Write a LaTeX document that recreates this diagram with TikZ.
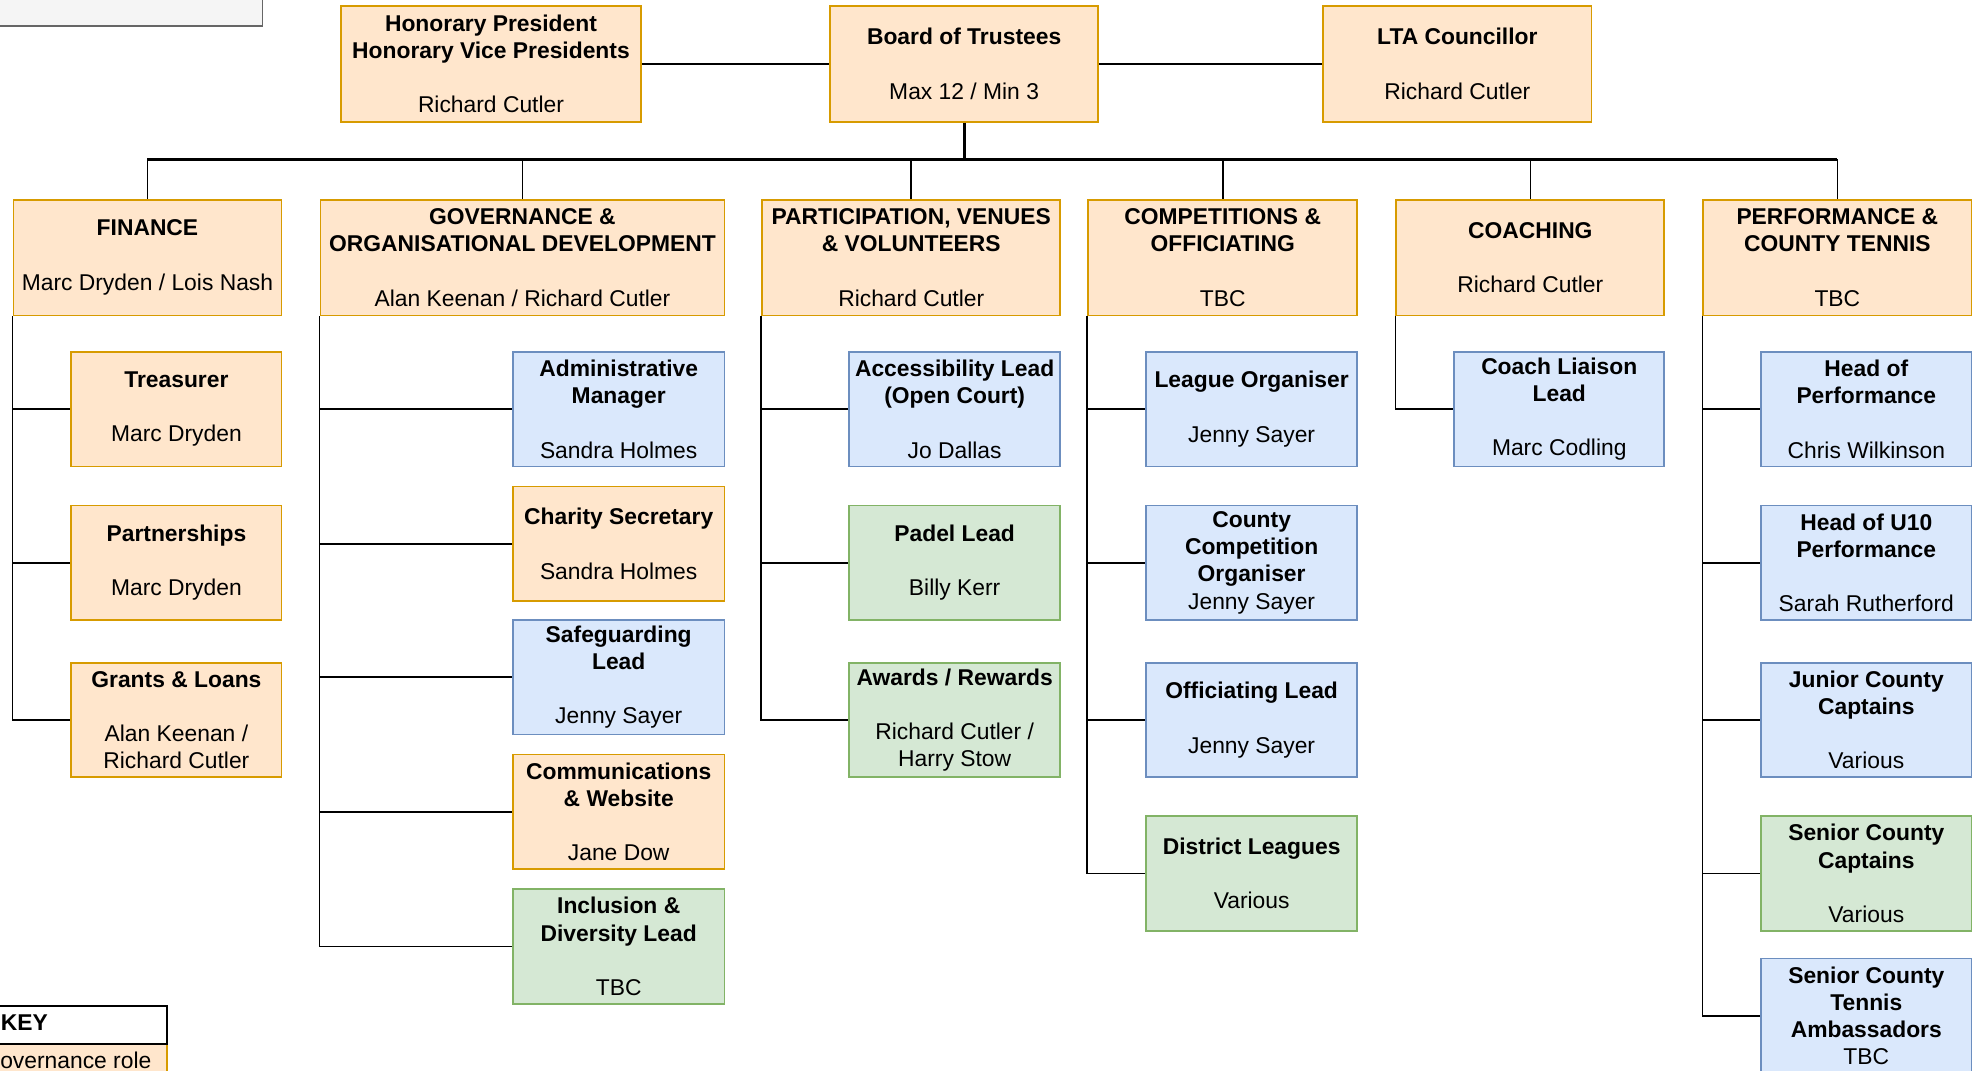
\documentclass[tikz,border=0pt]{standalone}
\usepackage{fontspec}
\setmainfont{Liberation Sans}
\definecolor{orF}{HTML}{FFE6CC}\definecolor{orD}{HTML}{D79B00}
\definecolor{blF}{HTML}{DAE8FC}\definecolor{blD}{HTML}{6C8EBF}
\definecolor{grF}{HTML}{D5E8D4}\definecolor{grD}{HTML}{82B366}
\definecolor{gyF}{HTML}{F5F5F5}\definecolor{gyD}{HTML}{666666}
\tikzset{
  box/.style={draw, line width=1.4pt, anchor=north west, inner sep=0pt, align=center,
    font=\fontsize{18.15}{21.6}\selectfont, text=black},
  ob/.style={box, fill=orF, draw=orD},
  bb/.style={box, fill=blF, draw=blD},
  gb/.style={box, fill=grF, draw=grD},
  conn/.style={line width=1.3pt, black},
  busline/.style={line width=2.2pt, black},
  txt/.style={anchor=west, inner sep=0pt, font=\fontsize{18.15}{21.6}\selectfont}
}
\begin{document}
\begin{tikzpicture}[x=1pt,y=-1pt]
\useasboundingbox (0,0) rectangle (1568,851);
\clip (0,0) rectangle (1568,851);
% note box top-left
\node[box, fill=gyF, draw=gyD, minimum width=240pt, minimum height=40pt] (note) at (-32,-20) {};
% top row
\node[ob, minimum width=239pt, minimum height=92pt] (hon) at (270,4) {\textbf{Honorary President}\\\textbf{Honorary Vice Presidents}\\[21.6pt]Richard Cutler};
\node[ob, minimum width=213pt, minimum height=92pt] (board) at (659,4) {\textbf{Board of Trustees}\\[21.6pt]Max 12 / Min 3};
\node[ob, minimum width=213pt, minimum height=92pt] (lta) at (1051,4) {\textbf{LTA Councillor}\\[21.6pt]Richard Cutler};
% departments
\node[ob, minimum width=213pt, minimum height=92pt] (fin) at (10,158) {\textbf{FINANCE}\\[21.6pt]Marc Dryden / Lois Nash};
\node[ob, minimum width=321pt, minimum height=92pt] (gov) at (254,158) {\textbf{GOVERNANCE \&}\\\textbf{ORGANISATIONAL DEVELOPMENT}\\[21.6pt]Alan Keenan / Richard Cutler};
\node[ob, minimum width=237pt, minimum height=92pt] (part) at (605,158) {\textbf{PARTICIPATION, VENUES}\\\textbf{\& VOLUNTEERS}\\[21.6pt]Richard Cutler};
\node[ob, minimum width=214pt, minimum height=92pt] (comp) at (864,158) {\textbf{COMPETITIONS \&}\\\textbf{OFFICIATING}\\[21.6pt]TBC};
\node[ob, minimum width=213pt, minimum height=92pt] (coach) at (1109,158) {\textbf{COACHING}\\[21.6pt]Richard Cutler};
\node[ob, minimum width=213pt, minimum height=92pt] (perf) at (1353,158) {\textbf{PERFORMANCE \&}\\\textbf{COUNTY TENNIS}\\[21.6pt]TBC};
% finance children
\node[ob, minimum width=167pt, minimum height=91pt] (treas) at (56,279) {\textbf{Treasurer}\\[21.6pt]Marc Dryden};
\node[ob, minimum width=167pt, minimum height=91pt] (partn) at (56,401) {\textbf{Partnerships}\\[21.6pt]Marc Dryden};
\node[ob, minimum width=167pt, minimum height=91pt] (grants) at (56,526) {\textbf{Grants \& Loans}\\[21.6pt]Alan Keenan /\\Richard Cutler};
% governance children
\node[bb, minimum width=168pt, minimum height=91pt] (admin) at (407,279) {\textbf{Administrative}\\\textbf{Manager}\\[21.6pt]Sandra Holmes};
\node[ob, minimum width=168pt, minimum height=91pt] (charity) at (407,386) {\textbf{Charity Secretary}\\[21.6pt]Sandra Holmes};
\node[bb, minimum width=168pt, minimum height=91pt] (safe) at (407,492) {\textbf{Safeguarding}\\\textbf{Lead}\\[21.6pt]Jenny Sayer};
\node[ob, minimum width=168pt, minimum height=91pt] (comms) at (407,599) {\textbf{Communications}\\\textbf{\& Website}\\[21.6pt]Jane Dow};
\node[gb, minimum width=168pt, minimum height=91pt] (incl) at (407,706) {\textbf{Inclusion \&}\\\textbf{Diversity Lead}\\[21.6pt]TBC};
% participation children
\node[bb, minimum width=168pt, minimum height=91pt] (access) at (674,279) {\textbf{Accessibility Lead}\\\textbf{(Open Court)}\\[21.6pt]Jo Dallas};
\node[gb, minimum width=168pt, minimum height=91pt] (padel) at (674,401) {\textbf{Padel Lead}\\[21.6pt]Billy Kerr};
\node[gb, minimum width=168pt, minimum height=91pt] (awards) at (674,526) {\textbf{Awards / Rewards}\\[21.6pt]Richard Cutler /\\Harry Stow};
% competitions children
\node[bb, minimum width=168pt, minimum height=91pt] (league) at (910,279) {\textbf{League Organiser}\\[21.6pt]Jenny Sayer};
\node[bb, minimum width=168pt, minimum height=91pt] (ccomp) at (910,401) {\textbf{County}\\\textbf{Competition}\\\textbf{Organiser}\\Jenny Sayer};
\node[bb, minimum width=168pt, minimum height=91pt] (offic) at (910,526) {\textbf{Officiating Lead}\\[21.6pt]Jenny Sayer};
\node[gb, minimum width=168pt, minimum height=91pt] (district) at (910,648) {\textbf{District Leagues}\\[21.6pt]Various};
% coaching child
\node[bb, minimum width=167pt, minimum height=91pt] (liaison) at (1155,279) {\textbf{Coach Liaison}\\\textbf{Lead}\\[21.6pt]Marc Codling};
% performance children
\node[bb, minimum width=167pt, minimum height=91pt] (headp) at (1399,279) {\textbf{Head of}\\\textbf{Performance}\\[21.6pt]Chris Wilkinson};
\node[bb, minimum width=167pt, minimum height=91pt] (u10) at (1399,401) {\textbf{Head of U10}\\\textbf{Performance}\\[21.6pt]Sarah Rutherford};
\node[bb, minimum width=167pt, minimum height=91pt] (junior) at (1399,526) {\textbf{Junior County}\\\textbf{Captains}\\[21.6pt]Various};
\node[gb, minimum width=167pt, minimum height=91pt] (senior) at (1399,648) {\textbf{Senior County}\\\textbf{Captains}\\[21.6pt]Various};
\node[bb, minimum width=167pt, minimum height=91pt] (ambass) at (1399,761) {\textbf{Senior County}\\\textbf{Tennis}\\\textbf{Ambassadors}\\TBC};
% key
\node[ob, minimum width=170pt, minimum height=40pt] (keyg) at (-38,829) {};
\node[box, fill=white, draw=black, minimum width=170pt, minimum height=30pt] (key) at (-38,799) {};
\node[txt] (keyt) at (0.5,813) {\textbf{KEY}};
\node[txt] (keygt) at (-14.1,843) {Governance role};
% connectors top
\draw[conn] (hon.east) -- (board.west);
\draw[conn] (board.east) -- (lta.west);
\coordinate (bus) at (board.south |- 0,127);
\foreach \d in {fin,gov,part,comp,coach,perf} {\draw[conn] (bus) -| (\d.north);}
\draw[busline] (board.south) -- (bus);
\draw[busline] (fin.north |- bus) -- (perf.north |- bus);
% children connectors
\foreach \c in {treas,partn,grants} {\draw[conn] (fin.south west) |- (\c.west);}
\foreach \c in {admin,charity,safe,comms,incl} {\draw[conn] (gov.south west) |- (\c.west);}
\foreach \c in {access,padel,awards} {\draw[conn] (part.south west) |- (\c.west);}
\foreach \c in {league,ccomp,offic,district} {\draw[conn] (comp.south west) |- (\c.west);}
\draw[conn] (coach.south west) |- (liaison.west);
\foreach \c in {headp,u10,junior,senior,ambass} {\draw[conn] (perf.south west) |- (\c.west);}
\end{tikzpicture}
\end{document}
